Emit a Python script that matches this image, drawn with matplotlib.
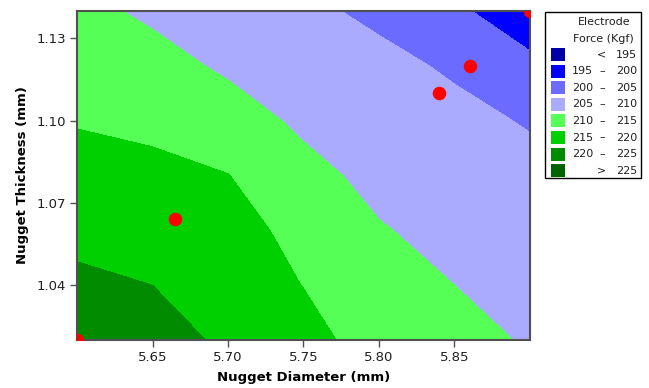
import numpy as np
import matplotlib
matplotlib.use('Agg')
import matplotlib.pyplot as plt
from matplotlib.patches import Rectangle

# --- date ---
diam = [5.60, 5.65, 5.70, 5.75, 5.80, 5.85, 5.90]
grosime = [1.02, 1.04, 1.06, 1.08, 1.10, 1.12, 1.14]
# forta electrod (Kgf), randuri = grosime, coloane = diametru
forta = [
    [223.0, 221.9, 219.2, 216.6, 212.9, 211.4, 209.6],
    [220.9, 220.0, 217.8, 214.9, 211.6, 210.0, 208.5],
    [218.8, 218.1, 216.5, 213.8, 210.3, 208.7, 207.3],
    [216.7, 216.1, 215.1, 211.3, 208.8, 207.3, 206.1],
    [214.7, 214.0, 212.0, 209.2, 207.3, 206.0, 204.7],
    [212.9, 211.6, 209.3, 207.5, 206.0, 204.5, 201.0],
    [211.2, 209.2, 207.6, 205.8, 204.2, 200.8, 197.3],
]
# puncte experimentale
pct_diam = [5.60, 5.665, 5.84, 5.86, 5.90]
pct_gros = [1.02, 1.064, 1.11, 1.12, 1.14]

limite = [195, 200, 205, 210, 215, 220, 225]
culori = ['#0000A8', '#0000FF', '#6B6BFF', '#AAAAFF',
          '#55FF55', '#00D000', '#008C00', '#006400']

W, H = 649, 388
fig = plt.figure(figsize=(W / 100, H / 100), dpi=100)
ax = fig.add_axes([77 / W, 1 - 340 / H, (530 - 77) / W, (340 - 11) / H])

niveluri = [150] + limite + [300]
ax.contourf(diam, grosime, np.array(forta), levels=niveluri, colors=culori)
ax.scatter(pct_diam, pct_gros, s=95, color='#FF0000', zorder=5, linewidths=0)

ax.set_xlim(5.60, 5.90)
ax.set_ylim(1.02, 1.14)
ax.set_xticks([5.65, 5.70, 5.75, 5.80, 5.85])
ax.set_yticks([1.04, 1.07, 1.10, 1.13])
ax.xaxis.set_major_formatter(matplotlib.ticker.FormatStrFormatter('%.2f'))
ax.yaxis.set_major_formatter(matplotlib.ticker.FormatStrFormatter('%.2f'))
ax.tick_params(direction='out', length=5, width=1, color='#505050',
               labelsize=9.5, labelcolor='#202020', pad=3)
for s in ax.spines.values():
    s.set_color('#505050')
    s.set_linewidth(1.5)
ax.set_xlabel('Nugget Diameter (mm)', fontsize=9.5, fontweight='bold', labelpad=5)
ax.set_ylabel('Nugget Thickness (mm)', fontsize=9.5, fontweight='bold', labelpad=5)


# --- legenda desenata manual ---
def fx(px):
    return px / W


def fy(py):
    return 1 - py / H


fig.add_artist(Rectangle((fx(545), fy(178)), fx(641) - fx(545), fy(12) - fy(178),
                         transform=fig.transFigure, fill=False,
                         edgecolor='black', linewidth=1))
fig.text(fx(604), fy(22), 'Electrode', ha='center', va='center', fontsize=8, color='#202020')
fig.text(fx(603), fy(39), 'Force (Kgf)', ha='center', va='center', fontsize=8, color='#202020')

for i, c in enumerate(culori):
    yc = 54.5 + i * 16.6
    fig.add_artist(Rectangle((fx(551), fy(yc + 6.5)), fx(565) - fx(551), 13 / H,
                             transform=fig.transFigure, facecolor=c, edgecolor='none'))
    if i == 0:
        simbol, stanga, dreapta = '<', '', str(limite[0])
    elif i == len(culori) - 1:
        simbol, stanga, dreapta = '>', '', str(limite[-1])
    else:
        simbol, stanga, dreapta = '\u2013', str(limite[i - 1]), str(limite[i])
    fig.text(fx(593), fy(yc), stanga, ha='right', va='center', fontsize=8, color='#202020')
    fig.text(fx(602), fy(yc), simbol, ha='center', va='center', fontsize=8, color='#202020')
    fig.text(fx(637), fy(yc), dreapta, ha='right', va='center', fontsize=8, color='#202020')

fig.savefig('out.png', dpi=100)
